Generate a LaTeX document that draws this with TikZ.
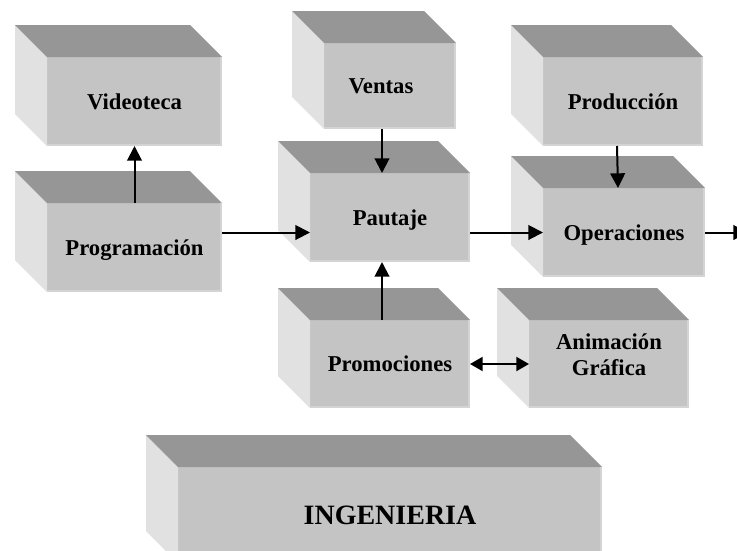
\documentclass[tikz,border=0pt]{standalone}
\usepackage{fontspec}
\setmainfont{Liberation Serif}
\usetikzlibrary{arrows.meta}
\definecolor{topc}{HTML}{969696}
\definecolor{frontc}{HTML}{C4C4C4}
\definecolor{sidec}{HTML}{E1E1E1}
\definecolor{edgec}{HTML}{D4D4D4}
\tikzset{
  cubeface/.style={fill=frontc, inner sep=0pt, outer sep=0pt, align=center,
    text height=11.3pt, text depth=0pt,
    font=\bfseries\fontsize{17}{19.5}\selectfont},
  arr/.style={line width=1.5pt, -{Triangle[length=11pt,width=11pt]}},
  arrtwo/.style={line width=1.5pt, {Triangle[length=9.5pt,width=10.5pt]}-{Triangle[length=9.5pt,width=10.5pt]}}
}
\newcommand\cubebox[7][]{%
  \node[cubeface, minimum width={#5*0.75pt}, minimum height={#6*0.75pt}, #1] (#2) at (#3,#4) {#7};
  \fill[sidec] (#2.north west) -- ++(-32,-32) -- ([shift={(-32,-32)}]#2.south west) -- (#2.south west) -- cycle;
  \fill[topc] (#2.north west) -- ++(-32,-32) -- ([shift={(-32,-32)}]#2.north east) -- (#2.north east) -- cycle;
  \draw[edgec, line width=1.2pt] ([shift={(-0.8,0)}]#2.north east) -- ([shift={(-0.8,-0.8)}]#2.south east) -- ([shift={(0,-0.8)}]#2.south west);
}
\begin{document}
\begin{tikzpicture}[x=0.75pt, y=-0.75pt]
\useasboundingbox (0,0) rectangle (737,550);
\clip (0,0) rectangle (737,550);
\fill[white] (0,0) rectangle (737,550);
\cubebox{vid}{134.5}{101.5}{175}{89}{Videoteca}
\cubebox{prog}{134.5}{247.5}{175}{89}{Programación}
\cubebox{ven}{390}{86}{132}{86}{Ventas\hspace*{13.5pt}}
\cubebox{pau}{390}{217.5}{160}{89}{Pautaje}
\cubebox{pro}{623}{101.5}{160}{89}{Producción}
\cubebox{ope}{624}{232.5}{162}{89}{Operaciones}
\cubebox{prm}{390}{364}{160}{88}{Promociones}
\cubebox[text height=, text depth=]{ani}{609}{364}{160}{88}{Animación\\Gráfica\\[-6pt]}
\cubebox[font=\bfseries\fontsize{21}{24}\selectfont, text height=13.9pt]{ing}{390}{515}{424}{96}{INGENIERIA}
\coordinate (out) at (748,232.5);
\draw[arr] (prog.north) -- (vid.south);
\draw[arr] (prog.east |- ope.west) -- (pau.west |- ope.west);
\draw[arr] (pau.east |- ope.west) -- (ope.west);
\draw[arr] (ope.east) -- (out);
\draw[arr] ([xshift=-6pt]ven.south) -- ([xshift=-6pt]pau.north);
\draw[arr] ([xshift=-4.5pt]pro.south) -- ([xshift=-4.5pt]ope.north);
\draw[arr] ([xshift=-6pt]prm.north) -- ([xshift=-6pt]pau.south);
\draw[arrtwo] (prm.east) -- (ani.west);
\end{tikzpicture}
\end{document}
